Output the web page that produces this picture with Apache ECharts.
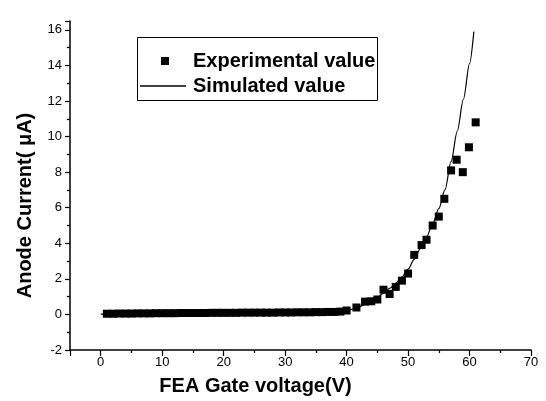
<!DOCTYPE html>
<html>
<head>
<meta charset="utf-8">
<script src="https://cdn.jsdelivr.net/npm/echarts@6/dist/echarts.min.js"></script>
<style>
  html, body { margin: 0; padding: 0; background: #fff; }
  #chart { width: 546px; height: 401px; }
</style>
</head>
<body>
<div id="chart"></div>
<script>
// Measured anode current (µA) against FEA gate voltage (V)
const expVoltage = [
  1, 2, 3, 4, 5, 6, 7, 8, 9, 10, 11, 12, 13, 14, 15, 16, 17, 18, 19, 20,
  21, 22, 23, 24, 25, 26, 27, 28, 29, 30, 31, 32, 33, 34, 35, 36, 37, 38, 39, 40,
  41.6, 43, 44, 45, 46, 47, 48, 49, 50, 51, 52.2, 53, 54, 55, 55.9, 57, 57.9, 58.9, 59.9, 61
];
const expCurrent = [
  0.04, 0.04, 0.05, 0.05, 0.05, 0.06, 0.06, 0.06, 0.07, 0.07, 0.07, 0.07, 0.08, 0.08, 0.08, 0.08, 0.08, 0.09, 0.09, 0.09,
  0.09, 0.09, 0.10, 0.10, 0.10, 0.10, 0.10, 0.10, 0.11, 0.11, 0.11, 0.12, 0.12, 0.12, 0.13, 0.13, 0.14, 0.14, 0.16, 0.22,
  0.39, 0.72, 0.74, 0.84, 1.39, 1.15, 1.55, 1.9, 2.3, 3.35, 3.9, 4.2, 5.0, 5.5, 6.5, 8.1, 8.7, 8.0, 9.4, 10.8
];

// Simulated curve
const simVoltage = [0, 10, 20, 30, 35, 38, 40, 41, 42, 43, 44, 45, 46, 47, 48, 49, 50, 51, 52, 53, 54, 55, 56, 57, 58, 59, 60, 60.7];
const simCurrent = [0.02, 0.04, 0.06, 0.09, 0.12, 0.15, 0.2, 0.3, 0.42, 0.57, 0.75, 0.96, 1.2, 1.46, 1.75, 2.1, 2.55, 3.1, 3.7, 4.35, 5.1, 5.95, 7.0, 8.6, 10.3, 12.1, 14.1, 15.9];

const seriesNames = ['Experimental value', 'Simulated value'];
const xTitle = 'FEA Gate voltage(V)';
const yTitle = 'Anode Current( μA)';

const zip = (xs, ys) => xs.map((x, i) => [x, ys[i]]);

const FONT = '"Liberation Sans", Arial, Helvetica, sans-serif';
const INK = '#000';

const chart = echarts.init(document.getElementById('chart'), null, { renderer: 'canvas' });

const legendText = {
  fontFamily: FONT, fontSize: 20, fontWeight: 'bold', color: INK
};

chart.setOption({
  animation: false,
  backgroundColor: '#fff',
  textStyle: { fontFamily: FONT, color: INK },
  grid: { left: 70, right: 15, top: 21, bottom: 48, containLabel: false },
  xAxis: {
    type: 'value',
    min: -5,
    max: 70,
    splitNumber: 7,
    name: xTitle,
    nameLocation: 'middle',
    nameGap: 26,
    nameTextStyle: { fontFamily: FONT, fontSize: 20, fontWeight: 'bold', color: INK, padding: [0, 90, 0, 0] },
    axisLine: { onZero: false, lineStyle: { color: INK, width: 1.5 } },
    axisTick: { show: true, length: 6, lineStyle: { color: INK, width: 1.2 } },
    minorTick: { show: true, splitNumber: 2, length: 3, lineStyle: { color: INK, width: 1.2 } },
    axisLabel: { showMinLabel: false, fontFamily: FONT, fontSize: 13, color: INK, margin: 6 },
    splitLine: { show: false }
  },
  yAxis: {
    type: 'value',
    min: -2,
    max: 16.5,
    interval: 2,
    name: yTitle,
    nameLocation: 'middle',
    nameGap: 35,
    nameTextStyle: { fontFamily: FONT, fontSize: 20, fontWeight: 'bold', color: INK, padding: [0, 40, 0, 0] },
    axisLine: { onZero: false, lineStyle: { color: INK, width: 1.5 } },
    axisTick: { show: true, length: 5, lineStyle: { color: INK, width: 1.2 } },
    minorTick: { show: true, splitNumber: 2, length: 3, lineStyle: { color: INK, width: 1.2 } },
    axisLabel: {
      fontFamily: FONT, fontSize: 13, color: INK, margin: 8,
      formatter: v => (v % 2 === 0 ? String(v) : '')
    },
    splitLine: { show: false }
  },
  legend: [
    {
      data: [seriesNames[0]],
      orient: 'vertical',
      left: 156,
      top: 46,
      itemWidth: 8,
      itemHeight: 8,
      icon: 'rect',
      itemStyle: { color: INK, opacity: 1 },
      textStyle: Object.assign({ padding: [0, 0, 0, 19] }, legendText)
    },
    {
      data: [seriesNames[1]],
      orient: 'vertical',
      left: 135,
      top: 71,
      itemWidth: 46,
      itemHeight: 1.3,
      icon: 'rect',
      itemStyle: { color: INK, opacity: 1 },
      textStyle: Object.assign({ padding: [0, 0, 0, 2] }, legendText)
    }
  ],
  graphic: [
    {
      type: 'rect',
      left: 135,
      top: 35,
      shape: { width: 240, height: 63 },
      style: { fill: 'none', stroke: INK, lineWidth: 1 },
      z: 0
    }
  ],
  series: [
    {
      name: seriesNames[0],
      type: 'scatter',
      data: zip(expVoltage, expCurrent),
      symbol: 'rect',
      symbolSize: 8,
      itemStyle: { color: INK, opacity: 1 },
      z: 3
    },
    {
      name: seriesNames[1],
      type: 'line',
      data: zip(simVoltage, simCurrent),
      smooth: 0.3,
      smoothMonotone: 'x',
      showSymbol: false,
      symbol: 'none',
      lineStyle: { color: INK, width: 1.2 },
      itemStyle: { color: INK },
      z: 2
    }
  ]
});
</script>
</body>
</html>
